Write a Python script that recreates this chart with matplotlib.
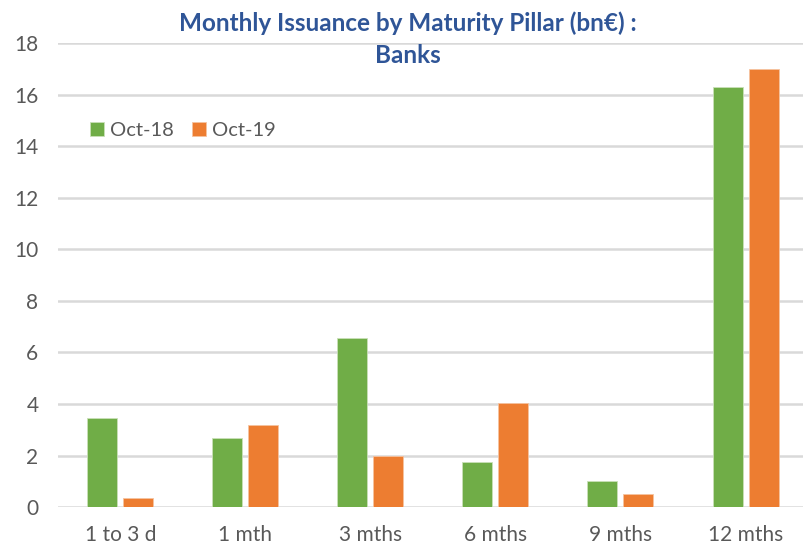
import matplotlib
matplotlib.use("Agg")
import matplotlib.pyplot as plt
import numpy as np

categories = ["1 to 3 d", "1 mth", "3 mths", "6 mths", "9 mths", "12 mths"]
oct18 = [3.45, 2.67, 6.55, 1.74, 1.0, 16.3]
oct19 = [0.37, 3.2, 1.98, 4.02, 0.5, 17.0]
series_labels = ["Oct-18", "Oct-19"]
yticks = [0, 2, 4, 6, 8, 10, 12, 14, 16, 18]

plt.rcParams['font.family'] = ['Lato', 'DejaVu Sans']

fig = plt.figure(figsize=(8.04, 5.47), dpi=100)
ax = fig.add_axes([0.072, 0.073, 0.933, 0.848])

x = np.arange(len(categories))
w = 0.24
off = 0.144
ax.bar(x - off, oct18, width=w, color="#70AD47", edgecolor="#C9E0B8", linewidth=0.6, label=series_labels[0], zorder=3)
ax.bar(x + off, oct19, width=w, color="#ED7D31", edgecolor="#F6C3A0", linewidth=0.6, label=series_labels[1], zorder=3)

ax.set_xlim(-0.5, len(categories) - 0.5)
ax.set_ylim(0, 18)
ax.set_yticks(yticks)
ax.set_xticks(x)
ax.set_xticklabels(categories)
ax.yaxis.grid(True, color="#D9D9D9", linewidth=1.8, zorder=0)
ax.set_axisbelow(True)
for s in ax.spines.values():
    s.set_visible(False)
ax.tick_params(axis='both', length=0, labelsize=15, colors="#595959")
ax.tick_params(axis='x', pad=13)
ax.tick_params(axis='y', pad=14)

leg = ax.legend(loc="upper left", bbox_to_anchor=(0.018, 0.87), ncol=2, frameon=False,
                fontsize=14.5, handlelength=0.7, handleheight=0.7, handletextpad=0.3,
                columnspacing=0.9)
for t in leg.get_texts():
    t.set_color("#595959")

fig.text(0.507, 0.958, "Monthly Issuance by Maturity Pillar (bn€) :", ha="center", va="center",
         fontsize=17.5, fontweight="bold", color="#2F5597")
fig.text(0.507, 0.898, "Banks", ha="center", va="center",
         fontsize=17.5, fontweight="bold", color="#2F5597")

fig.savefig("out.png", dpi=100)
